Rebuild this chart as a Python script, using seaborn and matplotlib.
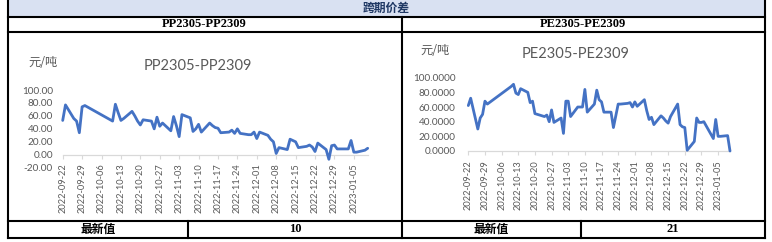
import matplotlib
matplotlib.use('Agg')
import matplotlib.pyplot as plt
import matplotlib.dates as mdates
from matplotlib.patches import Rectangle
import seaborn as sns
import pandas as pd

# ---------------- data ----------------
dates = [
    '2022-09-22', '2022-09-23', '2022-09-26', '2022-09-27', '2022-09-28', '2022-09-29', '2022-09-30',
    '2022-10-10', '2022-10-11', '2022-10-12', '2022-10-13', '2022-10-14', '2022-10-17', '2022-10-18',
    '2022-10-19', '2022-10-20', '2022-10-21', '2022-10-24', '2022-10-25', '2022-10-26', '2022-10-27',
    '2022-10-28', '2022-10-31',
    '2022-11-01', '2022-11-02', '2022-11-03', '2022-11-04', '2022-11-07', '2022-11-08', '2022-11-09',
    '2022-11-10', '2022-11-11', '2022-11-14', '2022-11-15', '2022-11-16', '2022-11-17', '2022-11-18',
    '2022-11-21', '2022-11-22', '2022-11-23', '2022-11-24', '2022-11-25', '2022-11-28', '2022-11-29',
    '2022-11-30',
    '2022-12-01', '2022-12-02', '2022-12-05', '2022-12-06', '2022-12-07', '2022-12-08', '2022-12-09',
    '2022-12-12', '2022-12-13', '2022-12-14', '2022-12-15', '2022-12-16', '2022-12-19', '2022-12-20',
    '2022-12-21', '2022-12-22', '2022-12-23', '2022-12-26', '2022-12-27', '2022-12-28', '2022-12-29',
    '2022-12-30',
    '2023-01-03', '2023-01-04', '2023-01-05', '2023-01-06', '2023-01-09', '2023-01-10',
]

pp_values = [
    53, 77, 56, 52, 34, 74, 76,
    52, 78, 65, 53, 56, 67, 60, 52, 46, 54, 52, 40, 58, 44, 49, 37,
    59, 45, 28, 62, 57, 36, 40, 47, 35, 49, 45, 42, 41, 34, 35, 38, 33, 40, 33, 31, 31, 35,
    25, 35, 30, 24, 20, 2, 11, 8, 24, 22, 20, 11, 13, 15, 12, 5, 18, 8, -7, 14, 15, 9,
    9, 22, 4, 4, 7, 10,
]

pe_values = [
    62, 72, 30, 45, 50, 68, 64,
    88, 91, 79, 77, 85, 80, 66, 68, 51, 50, 47, 49, 40, 56, 39, 45,
    24, 68, 68, 47, 60, 60, 60, 84, 53, 64, 83, 70, 67, 53, 53, 32, 48, 64, 64, 65, 66, 60,
    67, 61, 70, 55, 43, 46, 36, 48, 45, 41, 38, 47, 64, 36, 33, 32, 1, 13, 45, 39, 39, 40,
    17, 43, 20, 20, 21, 0,
]

header_text = '跨期价差'
pp_name = 'PP2305-PP2309'
pe_name = 'PE2305-PE2309'
unit_text = '元/吨'
latest_label = '最新值'
pp_latest = '10'
pe_latest = '21'

# ---------------- figure ----------------
sns.set_theme(style='white')
plt.rcParams['font.family'] = ['Lato', 'Noto Sans CJK SC', 'DejaVu Sans']

W, H = 772, 242
fig = plt.figure(figsize=(W / 100, H / 100), dpi=100)
fig.patch.set_facecolor('white')

bg = fig.add_axes([0, 0, 1, 1])
bg.set_xlim(0, W)
bg.set_ylim(H, 0)
bg.axis('off')


def px_axes(x0, y0, x1, y1):
    return fig.add_axes([x0 / W, 1 - y1 / H, (x1 - x0) / W, (y1 - y0) / H])


# table frame
L, R = 7.7, 764.5
T_HEAD, T_TITLE, T_BOT_TOP, T_BOT = 16.5, 31.5, 220.5, 237.5
MID = 401.5
bg.add_patch(Rectangle((L, 0), R - L, T_HEAD, facecolor='#D9E1F2', edgecolor='none', zorder=0))
lw = 1.5
k = dict(color='black', lw=lw, solid_capstyle='projecting', zorder=2)
bg.plot([L, L], [0, T_BOT], **k)
bg.plot([R, R], [0, T_BOT], **k)
for yy in (T_HEAD, T_TITLE, T_BOT_TOP, T_BOT):
    bg.plot([L, R], [yy, yy], **k)
bg.plot([MID, MID], [T_HEAD, T_BOT], **k)
bg.plot([188.3, 188.3], [T_BOT_TOP, T_BOT], **k)
bg.plot([581, 581], [T_BOT_TOP, T_BOT], **k)

cjk_bold = dict(family=['Noto Sans CJK SC', 'DejaVu Sans'], weight='heavy')
serif_bold = dict(family=['Liberation Serif', 'DejaVu Serif'], weight='bold')

bg.text((L + R) / 2, 8.5, header_text, ha='center', va='center', fontsize=8.5,
        color='#1F3864', **cjk_bold)
bg.text((L + MID) / 2, 24.3, pp_name, ha='center', va='center', fontsize=9, color='black', **serif_bold)
bg.text((MID + R) / 2, 24.3, pe_name, ha='center', va='center', fontsize=9, color='black', **serif_bold)
bg.text((L + 188.3) / 2, 229.5, latest_label, ha='center', va='center', fontsize=8.5, color='black', **cjk_bold)
bg.text((188.3 + MID) / 2, 229.5, pp_latest, ha='center', va='center', fontsize=9, color='black', **serif_bold)
bg.text((MID + 581) / 2, 229.5, latest_label, ha='center', va='center', fontsize=8.5, color='black', **cjk_bold)
bg.text((581 + R) / 2, 229.5, pe_latest, ha='center', va='center', fontsize=9, color='black', **serif_bold)

# chart labels
grey = '#595959'
cjk = dict(family=['Noto Sans CJK SC', 'DejaVu Sans'])
bg.text(43, 62.5, unit_text, ha='center', va='center', fontsize=8.8, color=grey, **cjk)
bg.text(435, 51, unit_text, ha='center', va='center', fontsize=8.8, color=grey, **cjk)
bg.text(198, 66, pp_name, ha='center', va='center', fontsize=10.5, color=grey, family='Lato')
bg.text(576, 53.5, pe_name, ha='center', va='center', fontsize=10.5, color=grey, family='Lato')

blue = '#4472C4'
x_start = pd.Timestamp(dates[0])
x_end = pd.Timestamp(dates[-1])
tick_dates = pd.date_range(dates[0], '2023-01-05', freq='7D')


def draw(ax, values, ymin, ymax, fmt, ypad):
    df = pd.DataFrame({'date': pd.to_datetime(dates), 'value': values})
    sns.lineplot(data=df, x='date', y='value', ax=ax, color=blue, linewidth=2.0, errorbar=None)
    for ln in ax.lines:
        ln.set_clip_on(False)
        ln.set_solid_joinstyle('round')
    ax.patch.set_alpha(0)
    ax.set_xlim(x_start, x_end)
    ax.set_ylim(ymin, ymax)
    ax.set_xlabel('')
    ax.set_ylabel('')
    ax.set_yticks(list(range(ymin, ymax + 1, 20)))
    ax.set_yticklabels([fmt.format(v) for v in range(ymin, ymax + 1, 20)])
    ax.set_xticks(tick_dates)
    ax.xaxis.set_major_formatter(mdates.DateFormatter('%Y-%m-%d'))
    for s in ('top', 'right', 'left'):
        ax.spines[s].set_visible(False)
    ax.spines['bottom'].set_position(('data', 0))
    ax.spines['bottom'].set_color('#D9D9D9')
    ax.spines['bottom'].set_linewidth(0.9)
    ax.spines['bottom'].set_zorder(0.5)
    ax.tick_params(axis='y', length=0, pad=ypad, labelsize=7.2, labelcolor=grey)
    ax.tick_params(axis='x', direction='out', length=3, width=0.8, color='#D9D9D9',
                   pad=3.4, labelsize=6.7, labelcolor=grey, labelrotation=90, bottom=True)
    for lab in ax.get_yticklabels() + ax.get_xticklabels():
        lab.set_family('Lato')
    ax.grid(False)


ax1 = px_axes(62.7, 90, 367.7, 167.7)
draw(ax1, pp_values, -20, 100, '{:.2f}', 7.0)

ax2 = px_axes(468.3, 77.7, 730, 151)
draw(ax2, pe_values, 0, 100, '{:.4f}', 9.0)

fig.savefig('out.png', dpi=100, facecolor='white')
